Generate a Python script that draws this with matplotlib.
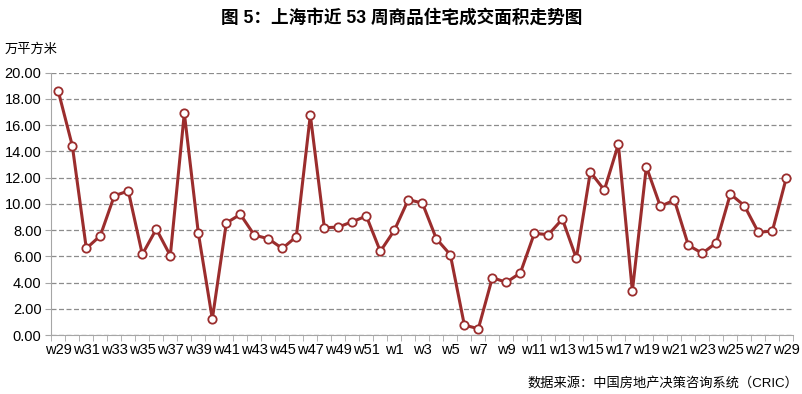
import numpy as np
import matplotlib.pyplot as plt

plt.rcParams['font.family'] = ['Liberation Sans', 'Noto Sans CJK SC', 'DejaVu Sans']

# 周次（上年 w29 到 本年 w29，共 53 周）
weeks = ['w%d' % w for w in range(29, 53)] + ['w%d' % w for w in range(1, 30)]

# 成交面积（万平方米）
area = [18.58, 14.43, 6.60, 7.57, 10.62, 10.98, 6.15, 8.08, 6.05, 16.92,
        7.78, 1.22, 8.54, 9.20, 7.62, 7.34, 6.60, 7.50, 16.77, 8.18,
        8.23, 8.64, 9.07, 6.38, 7.98, 10.32, 10.06, 7.34, 6.12, 0.76,
        0.48, 4.37, 4.02, 4.73, 7.75, 7.65, 8.84, 5.85, 12.43, 11.05,
        14.54, 3.35, 12.83, 9.81, 10.29, 6.84, 6.23, 7.04, 10.75, 9.86,
        7.83, 7.93, 12.00]

line_color = '#9b2d2d'

fig = plt.figure(figsize=(8.03, 3.94), dpi=100)
ax = fig.add_axes([0.0639, 0.1497, 0.9241, 0.6658])

x = np.arange(len(weeks))
ax.plot(x, area, color=line_color, linewidth=2.2, marker='o', markersize=6,
        markerfacecolor='white', markeredgecolor=line_color, markeredgewidth=1.3,
        zorder=3)

ax.set_xlim(-0.5, len(weeks) - 0.5)
ax.set_ylim(0, 20)
ax.set_yticks(np.arange(0, 21, 2))
ax.set_yticklabels(['%.2f' % v for v in np.arange(0, 21, 2)], fontsize=10.5)

# 类别标签每隔一周显示一个
ax.set_xticks(x[::2])
ax.set_xticklabels(weeks[::2], fontsize=10.5)
ax.tick_params(axis='x', length=0, pad=6)
ax.set_xticks(np.arange(-0.5, len(weeks)), minor=True)
ax.tick_params(axis='x', which='minor', length=4, color='#a6a6a6')
ax.tick_params(axis='y', length=4, color='#a6a6a6', pad=3)

ax.grid(axis='y', linestyle=(0, (4, 2)), color='#8c8c8c', linewidth=0.9)
ax.set_axisbelow(True)
for s in ['top', 'right']:
    ax.spines[s].set_visible(False)
for s in ['left', 'bottom']:
    ax.spines[s].set_color('#a6a6a6')

fig.text(0.5, 0.955, '图 5：上海市近 53 周商品住宅成交面积走势图', ha='center', va='center',
         fontsize=12.7, fontweight='bold')
fig.text(0.006, 0.873, '万平方米', ha='left', va='center', fontsize=9.5)
fig.text(0.994, 0.028, '数据来源：中国房地产决策咨询系统（CRIC）', ha='right', va='center',
         fontsize=9.5)

fig.savefig('out.png', dpi=100)
